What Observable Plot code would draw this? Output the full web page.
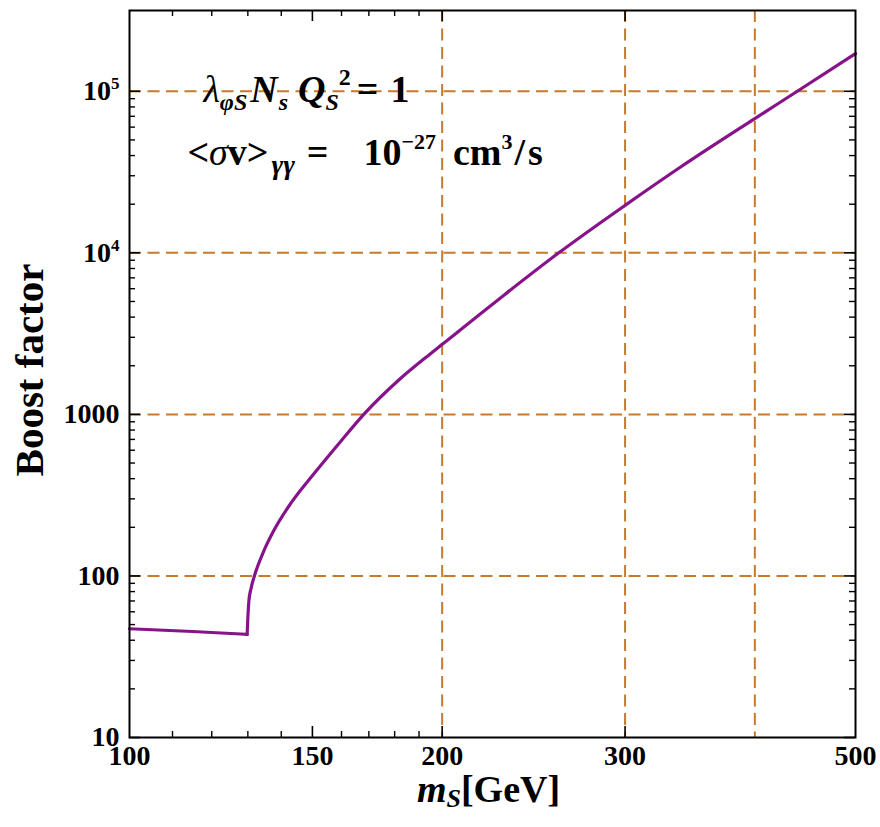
<!DOCTYPE html>
<html><head><meta charset="utf-8">
<script src="https://cdn.jsdelivr.net/npm/d3@7"></script>
<script src="https://cdn.jsdelivr.net/npm/@observablehq/plot@0.6"></script>
<style>html,body{margin:0;padding:0;background:#fff}svg{display:block}
#chart svg text, #chart svg tspan{font-family:"Liberation Serif","Times New Roman",serif !important;}
</style>
</head><body><div id="chart"></div>
<script>
// ---- data ----
const massGeV = [100, 115, 129.8, 130.0, 130.3, 131.0, 131.9, 134.7, 137.7, 142.9, 150.5, 159.7, 168.1, 182, 194.9, 200, 230, 259, 300, 339.3, 400, 439.5, 500];
const boost   = [47.1, 45.3, 43.5, 55, 70, 85, 100, 143, 191, 280, 429, 680, 1000, 1650, 2376, 2713, 5550, 10000, 19680, 33980, 67760, 100000, 171200];
const thresholdGeV = 129.8;

const xTickLabels = [100, 150, 200, 300, 500];
const xMajorTicks = [150, 200, 300];
const xMinorTicks = [110, 120, 130, 140, 160, 170, 180, 190];
const xGridLines  = [200, 300, 400];
const yTickLabels = [10, 100, 1000, 10000, 100000];
const yGridLines  = [100, 1000, 10000, 100000];
const yMinorDecades = [10, 100, 1000, 10000];
const yMinorMultipliers = [2, 3, 4, 5, 6, 7, 8, 9];

const annotationText = ["λ_φS N_s Q_S^2 = 1", "<σv>_γγ = 10^−27 cm^3/s"];
const annotationX = [117.8, 113.7];
const annotationY = [86100, 34830];
const xLabel = "m_S[GeV]";
const yLabel = "Boost factor";

// ---- derived tables ----
const curve = [];
massGeV.forEach((m, i) => {
  if (m <= thresholdGeV) curve.push({m, b: boost[i], seg: "below"});
  if (m >= thresholdGeV) curve.push({m, b: boost[i], seg: "above"});
});
const yMinorTicks = yMinorDecades.flatMap(d => yMinorMultipliers.map(k => k * d));
const annotations = annotationText.map((t, i) => ({t, x: annotationX[i], y: annotationY[i]}));

const W = 880, H = 827, mL = 129, mR = 25, mT = 10, mB = 90;
const pw = W - mL - mR, ph = H - mT - mB;
const gridColor = "#c87a2c";
const curveColor = "#87138a";
const serif = "Liberation Serif";

const svg = Plot.plot({
  width: W, height: H,
  marginLeft: mL, marginRight: mR, marginTop: mT, marginBottom: mB,
  style: {fontFamily: serif, fontWeight: "bold", color: "black", background: "white"},
  x: {type: "log", domain: [100, 500], axis: null},
  y: {type: "log", domain: [10, Math.pow(10, 5.5)], axis: null},
  marks: [
    Plot.ruleX(xGridLines, {stroke: gridColor, strokeWidth: 2, strokeDasharray: "12,6.5"}),
    Plot.ruleY(yGridLines, {stroke: gridColor, strokeWidth: 2, strokeDasharray: "12,6.5"}),
    // inward ticks
    Plot.tickX(xMajorTicks, {insetTop: ph - 11, stroke: "black", strokeWidth: 1.6}),
    Plot.tickX(xMajorTicks, {insetBottom: ph - 11, stroke: "black", strokeWidth: 1.6}),
    Plot.tickX(xMinorTicks, {insetTop: ph - 6, stroke: "black", strokeWidth: 1.4}),
    Plot.tickX(xMinorTicks, {insetBottom: ph - 6, stroke: "black", strokeWidth: 1.4}),
    Plot.tickY(yTickLabels, {insetRight: pw - 11, stroke: "black", strokeWidth: 1.6}),
    Plot.tickY(yTickLabels, {insetLeft: pw - 11, stroke: "black", strokeWidth: 1.6}),
    Plot.tickY(yMinorTicks, {insetRight: pw - 6, stroke: "black", strokeWidth: 1.4}),
    Plot.tickY(yMinorTicks, {insetLeft: pw - 6, stroke: "black", strokeWidth: 1.4}),
    Plot.line(curve, {x: "m", y: "b", z: "seg", stroke: curveColor, strokeWidth: 3.2, curve: "monotone-x"}),
    Plot.frame({stroke: "black", strokeWidth: 2}),
    Plot.axisX(xTickLabels, {anchor: "bottom", tickSize: 0, tickPadding: 8, fontSize: 28, fontFamily: serif, fontWeight: "bold", label: null, tickFormat: d => String(d)}),
    Plot.axisY(yTickLabels, {anchor: "left", tickSize: 0, tickPadding: 10, fontSize: 28, fontFamily: serif, fontWeight: "bold", label: null,
      tickFormat: d => d >= 10000 ? "10^" + Math.round(Math.log10(d)) : String(d)}),
    Plot.text(annotations, {x: "x", y: "y", text: "t", textAnchor: "start", lineAnchor: "bottom", fontSize: 38, fontFamily: serif, fontWeight: "bold", fill: "black"}),
    Plot.text([xLabel], {text: d => d, frameAnchor: "bottom", textAnchor: "middle", dy: 64, dx: -4, fontSize: 38, fontFamily: serif, fontWeight: "bold", fill: "black"}),
    Plot.text([yLabel], {text: d => d, frameAnchor: "left", textAnchor: "middle", dx: -100, dy: -4, rotate: -90, fontSize: 41, fontFamily: serif, fontWeight: "bold", fill: "black"})
  ]
});

const rich = {
  "λ_φS N_s Q_S^2 = 1":
    `<tspan font-style="italic" font-weight="normal">λ</tspan>` +
    `<tspan font-style="italic" font-size="24" dy="8">φS</tspan>` +
    `<tspan font-style="italic" dy="-8" dx="3">N</tspan>` +
    `<tspan font-style="italic" font-size="24" dy="8" dx="1">s</tspan>` +
    `<tspan font-style="italic" dy="-8" dx="10">Q</tspan>` +
    `<tspan font-style="italic" font-size="24" dy="8">S</tspan>` +
    `<tspan font-size="24" dy="-25">2</tspan>` +
    `<tspan dy="17" dx="6">=</tspan><tspan dx="12">1</tspan>`,
  "<σv>_γγ = 10^−27 cm^3/s":
    `&lt;<tspan font-style="italic" font-weight="normal">σ</tspan>v&gt;` +
    `<tspan font-style="italic" font-size="28" dy="9" dx="3">γγ</tspan>` +
    `<tspan dy="-9" dx="12">=</tspan><tspan dx="35">10</tspan>` +
    `<tspan font-size="22" dy="-16">−27</tspan>` +
    `<tspan dy="16" dx="17">cm</tspan><tspan font-size="22" dy="-16">3</tspan>` +
    `<tspan dy="16" dx="2">/</tspan><tspan dx="3">s</tspan>`,
  "m_S[GeV]":
    `<tspan font-style="italic">m</tspan><tspan font-style="italic" font-size="26" dy="5">S</tspan><tspan dy="-5">[GeV]</tspan>`
};
svg.querySelectorAll("text").forEach(t => {
  const s = t.textContent;
  if (rich[s]) t.innerHTML = rich[s];
  else {
    const m = /^10\^(\d+)$/.exec(s);
    if (m) t.innerHTML = `10<tspan font-size="17" dy="-11">${m[1]}</tspan>`;
  }
});
document.getElementById("chart").appendChild(svg);
</script>
</body></html>
